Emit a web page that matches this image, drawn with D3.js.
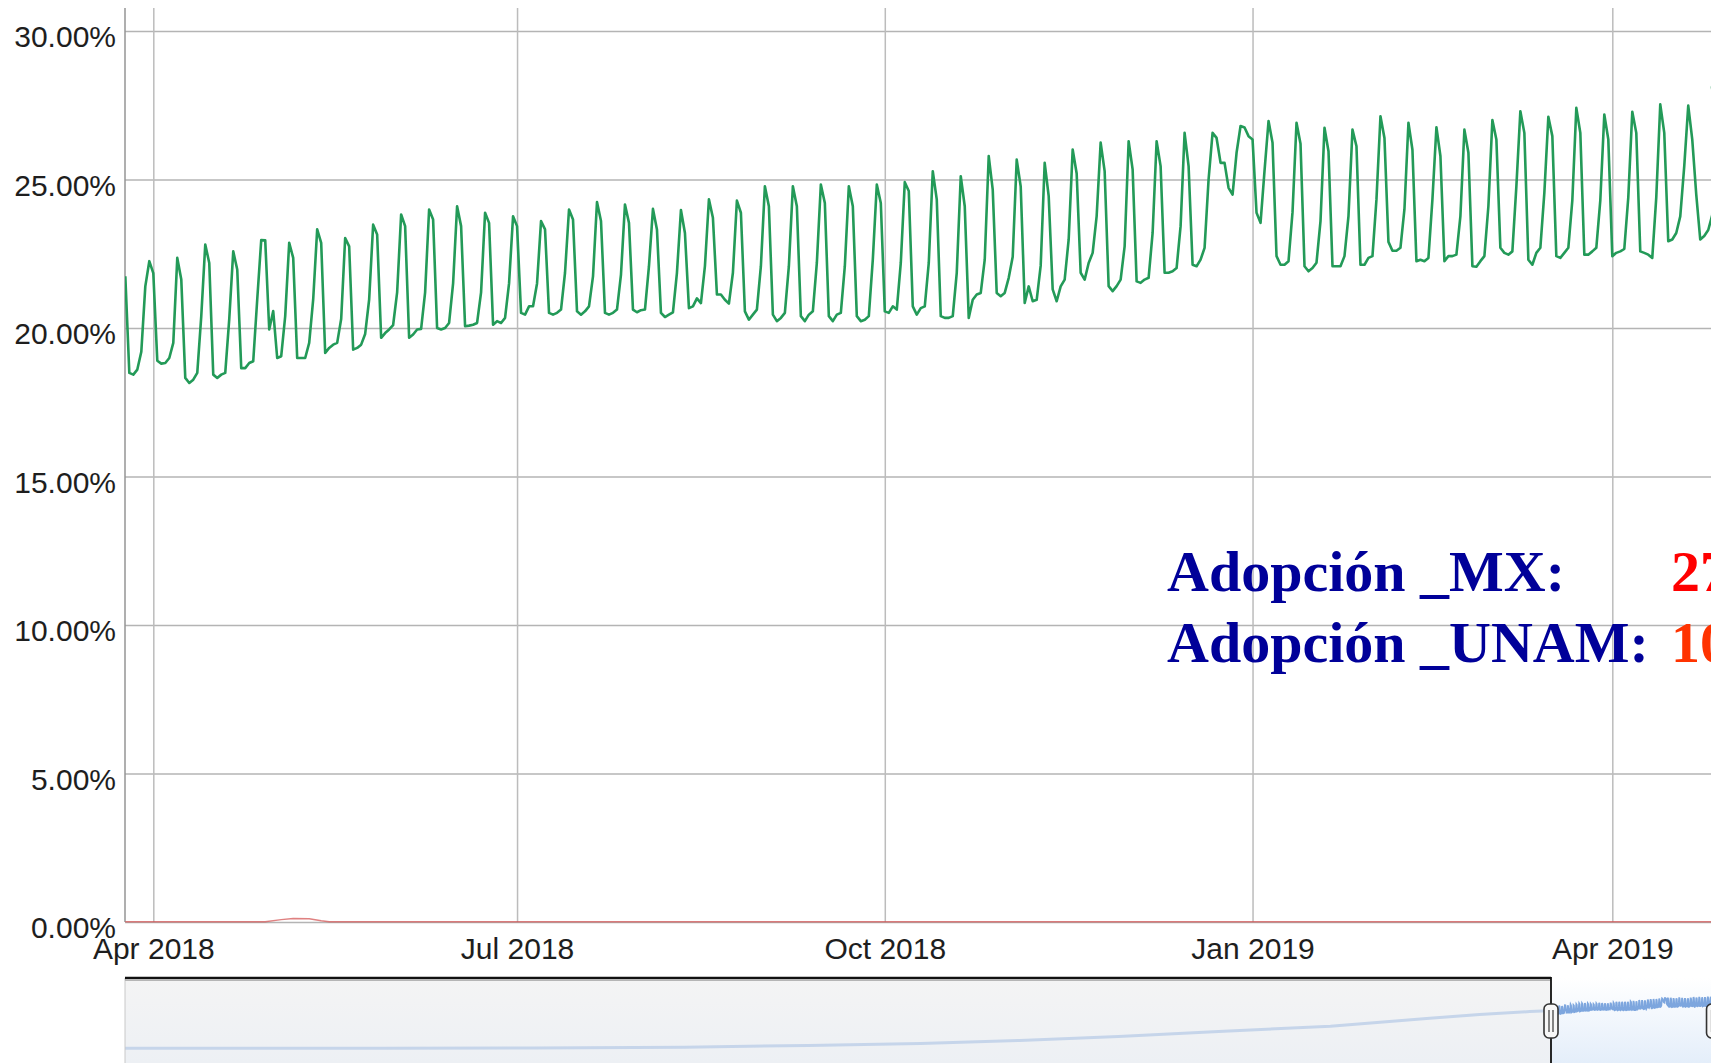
<!DOCTYPE html>
<html>
<head>
<meta charset="utf-8">
<script src="https://cdn.jsdelivr.net/npm/d3@7"></script>
<style>
  html, body { margin: 0; padding: 0; background: #fff; overflow: hidden; }
  svg { display: block; }
</style>
</head>
<body>
<div id="chart"></div>
<script>
// Daily IPv6 adoption MX (%), one row per week Sun..Sat, first day Sun 25 Mar 2018
const mxStart = "2018-03-25";
const mxAdoption = [
  21.74, 18.49, 18.43, 18.60, 19.20, 21.40, 22.25,
  21.85, 18.90, 18.80, 18.82, 18.99, 19.50, 22.36,
  21.63, 18.32, 18.15, 18.26, 18.49, 20.40, 22.81,
  22.19, 18.43, 18.32, 18.43, 18.49, 20.30, 22.58,
  21.97, 18.65, 18.65, 18.82, 18.88, 20.96, 22.96,
  22.95, 19.95, 20.57, 18.99, 19.05, 20.40, 22.87,
  22.36, 18.99, 18.99, 18.99, 19.50, 20.96, 23.32,
  22.87, 19.16, 19.33, 19.44, 19.50, 20.30, 23.03,
  22.75, 19.27, 19.33, 19.44, 19.80, 20.96, 23.48,
  23.15, 19.67, 19.83, 19.95, 20.10, 21.20, 23.82,
  23.43, 19.67, 19.78, 19.95, 19.97, 21.20, 23.99,
  23.65, 20.00, 19.95, 20.00, 20.17, 21.50, 24.10,
  23.43, 20.06, 20.08, 20.11, 20.17, 21.20, 23.88,
  23.54, 20.11, 20.23, 20.17, 20.34, 21.50, 23.76,
  23.43, 20.51, 20.45, 20.73, 20.73, 21.50, 23.60,
  23.32, 20.51, 20.45, 20.51, 20.62, 21.86, 23.99,
  23.65, 20.56, 20.45, 20.56, 20.73, 21.74, 24.24,
  23.60, 20.51, 20.45, 20.51, 20.62, 21.80, 24.16,
  23.54, 20.62, 20.53, 20.60, 20.62, 22.08, 24.01,
  23.32, 20.51, 20.37, 20.45, 20.53, 21.86, 23.97,
  23.20, 20.67, 20.73, 21.00, 20.84, 22.08, 24.33,
  23.71, 21.13, 21.13, 20.95, 20.82, 21.86, 24.29,
  23.88, 20.56, 20.28, 20.45, 20.62, 22.08, 24.77,
  24.10, 20.45, 20.23, 20.34, 20.51, 22.08, 24.77,
  24.10, 20.40, 20.23, 20.45, 20.56, 22.19, 24.83,
  24.21, 20.40, 20.23, 20.45, 20.51, 22.08, 24.77,
  24.10, 20.40, 20.23, 20.28, 20.40, 22.30, 24.83,
  24.21, 20.56, 20.51, 20.73, 20.62, 22.19, 24.91,
  24.61, 20.73, 20.45, 20.67, 20.73, 22.19, 25.28,
  24.33, 20.40, 20.34, 20.34, 20.40, 21.86, 25.11,
  24.10, 20.34, 20.95, 21.13, 21.18, 22.30, 25.79,
  24.66, 21.18, 21.07, 21.18, 21.69, 22.40, 25.67,
  24.77, 20.84, 21.40, 20.90, 20.95, 22.10, 25.56,
  24.44, 21.30, 20.90, 21.40, 21.63, 22.98, 26.01,
  25.20, 21.86, 21.63, 22.19, 22.53, 23.77, 26.24,
  25.28, 21.41, 21.24, 21.41, 21.63, 22.75, 26.29,
  25.34, 21.57, 21.52, 21.63, 21.69, 23.20, 26.29,
  25.45, 21.86, 21.86, 21.91, 22.02, 23.43, 26.57,
  25.45, 22.13, 22.08, 22.30, 22.70, 25.00, 26.57,
  26.40, 25.56, 25.56, 24.72, 24.49, 25.90, 26.80,
  26.75, 26.46, 26.35, 23.88, 23.54, 25.30, 26.97,
  26.24, 22.42, 22.13, 22.13, 22.25, 23.90, 26.91,
  26.20, 22.08, 21.91, 22.02, 22.20, 23.60, 26.74,
  25.95, 22.08, 22.08, 22.08, 22.42, 23.77, 26.68,
  26.12, 22.13, 22.13, 22.36, 22.42, 24.33, 27.13,
  26.40, 22.90, 22.60, 22.60, 22.70, 24.00, 26.91,
  26.00, 22.25, 22.30, 22.25, 22.36, 24.33, 26.76,
  25.79, 22.25, 22.42, 22.42, 22.47, 23.77, 26.68,
  25.90, 22.08, 22.06, 22.25, 22.42, 24.10, 27.00,
  26.35, 22.70, 22.53, 22.47, 22.58, 24.77, 27.30,
  26.57, 22.30, 22.13, 22.53, 22.70, 24.55, 27.11,
  26.46, 22.42, 22.36, 22.53, 22.70, 24.30, 27.41,
  26.57, 22.47, 22.47, 22.58, 22.70, 24.30, 27.19,
  26.35, 22.42, 22.53, 22.58, 22.66, 24.40, 27.28,
  26.57, 22.58, 22.53, 22.47, 22.36, 24.40, 27.53,
  26.57, 22.92, 22.98, 23.20, 23.76, 25.45, 27.49,
  26.35, 24.50, 22.98, 23.10, 23.30, 23.80, 28.10
];

// UNAM series, sits on the zero line with a small bump in May 2018
const unamDates = ["2018-03-25", "2018-04-29", "2018-05-03", "2018-05-06", "2018-05-10", "2018-05-13", "2018-05-15", "2019-04-27"];
const unamValues = [0.01, 0.01, 0.08, 0.12, 0.11, 0.04, 0.01, 0.01];

// overview (navigator) series before the zoomed range
const navDates = ["2008-09-01", "2009-06-01", "2010-06-01", "2011-06-01", "2012-06-01", "2013-04-01", "2014-01-01",
                  "2014-09-01", "2015-05-01", "2016-01-01", "2016-10-01", "2017-06-01", "2017-10-01", "2018-02-01", "2018-03-18"];
const navValues = [0.0, 0.0, 0.05, 0.2, 0.6, 1.5, 2.6, 4.2, 6.3, 9.0, 11.8, 16.0, 18.0, 19.6, 20.0];

const yTicks = [0, 5, 10, 15, 20, 25, 30];
const xTickDates = ["2018-04-01", "2018-07-01", "2018-10-01", "2019-01-01", "2019-04-01"];
const xTickLabels = ["Apr 2018", "Jul 2018", "Oct 2018", "Jan 2019", "Apr 2019"];

const overlayLabels = ["Adopción _MX:", "Adopción _UNAM:"];
const overlayNumbers = ["27%", "10%"];

const width = 1711, height = 1063;
const plotLeft = 125, plotTop = 8, plotBottom = 922;
const parse = d3.utcParse("%Y-%m-%d");

const start = parse(mxStart);
const mxData = mxAdoption.map((v, i) => ({ date: d3.utcDay.offset(start, i), value: v }));
const unamData = unamDates.map((d, i) => ({ date: parse(d), value: unamValues[i] }));
const navData = navDates.map((d, i) => ({ date: parse(d), value: navValues[i] })).concat(mxData);

const svg = d3.select("#chart")
    .append("svg")
    .attr("width", width)
    .attr("height", height)
    .style("font-family", "'Liberation Sans', Arial, sans-serif");

// scales
const x = d3.scaleUtc()
    .domain([parse("2018-04-01"), parse("2019-04-01")])
    .range([153.3, 1612.3]);
const y = d3.scaleLinear()
    .domain([0, 30])
    .range([plotBottom, 31]);

const defs = svg.append("defs");
defs.append("clipPath").attr("id", "plot-clip")
    .append("rect").attr("x", plotLeft).attr("y", 0).attr("width", width - plotLeft + 20).attr("height", plotBottom + 4);

// horizontal grid + y labels
const yAxis = svg.append("g")
    .attr("transform", `translate(${plotLeft},0)`)
    .call(d3.axisLeft(y).tickValues(yTicks).tickSize(-(width - plotLeft)).tickPadding(9)
        .tickFormat(d => d.toFixed(2) + "%"));
yAxis.select(".domain").remove();
yAxis.selectAll(".tick line").attr("stroke", "#b4b4b4").attr("stroke-width", 1.5);
yAxis.selectAll(".tick text")
    .attr("dy", 0).attr("y", 15.5)
    .style("font-size", "30px").style("fill", "#1e1e1e");

// vertical grid + x labels
const xAxis = svg.append("g")
    .attr("transform", `translate(0,${plotBottom})`)
    .call(d3.axisBottom(x).tickValues(xTickDates.map(parse)).tickSize(-(plotBottom - plotTop))
        .tickFormat((d, i) => xTickLabels[i]));
xAxis.select(".domain").remove();
xAxis.selectAll(".tick line").attr("stroke", "#bcbcbc").attr("stroke-width", 1.5);
xAxis.selectAll(".tick text")
    .attr("dy", 0).attr("y", 37)
    .style("font-size", "30px").style("fill", "#1e1e1e");

// left axis line
svg.append("line")
    .attr("x1", plotLeft).attr("x2", plotLeft)
    .attr("y1", plotTop).attr("y2", plotBottom)
    .attr("stroke", "#949494").attr("stroke-width", 1.5);

// series
const line = d3.line().x(d => x(d.date)).y(d => y(d.value));
const plot = svg.append("g").attr("clip-path", "url(#plot-clip)");

plot.append("path")
    .datum(unamData)
    .attr("fill", "none")
    .attr("stroke", "#d24b4b")
    .attr("stroke-opacity", 0.7)
    .attr("stroke-width", 1.5)
    .attr("d", line);

plot.append("path")
    .datum(mxData)
    .attr("fill", "none")
    .attr("stroke", "#239a58")
    .attr("stroke-width", 2.6)
    .attr("stroke-linejoin", "round")
    .attr("d", line);

const last = mxData[mxData.length - 1];
plot.append("circle")
    .attr("cx", x(last.date)).attr("cy", y(last.value))
    .attr("r", 5.5).attr("fill", "#239a58");

// overview navigator
const nx = d3.scaleUtc()
    .domain([parse("2008-09-01"), start])
    .range([plotLeft, 1551]);
const ny = d3.scaleLinear()
    .domain([0, 28])
    .range([1048.3, 995.8]);
const selLeft = nx(start);
const selRight = nx(last.date);
const navTop = 978;

const gOut = defs.append("linearGradient").attr("id", "nav-out").attr("x1", 0).attr("x2", 0).attr("y1", 0).attr("y2", 1);
gOut.append("stop").attr("offset", "0%").attr("stop-color", "#f4f4f4");
gOut.append("stop").attr("offset", "100%").attr("stop-color", "#edf0f4");
const gIn = defs.append("linearGradient").attr("id", "nav-in").attr("x1", 0).attr("x2", 0).attr("y1", 0).attr("y2", 1);
gIn.append("stop").attr("offset", "0%").attr("stop-color", "#ffffff");
gIn.append("stop").attr("offset", "100%").attr("stop-color", "#e4eefa");

defs.append("clipPath").attr("id", "nav-out-clip")
    .append("rect").attr("x", plotLeft).attr("y", navTop).attr("width", selLeft - plotLeft).attr("height", height - navTop);
defs.append("clipPath").attr("id", "nav-in-clip")
    .append("rect").attr("x", selLeft).attr("y", navTop).attr("width", width - selLeft + 20).attr("height", height - navTop);

svg.append("rect")
    .attr("x", plotLeft).attr("y", navTop).attr("width", selLeft - plotLeft).attr("height", height - navTop)
    .attr("fill", "url(#nav-out)");
svg.append("rect")
    .attr("x", selLeft).attr("y", navTop).attr("width", width - selLeft + 20).attr("height", height - navTop)
    .attr("fill", "url(#nav-in)");

const navLine = d3.line().x(d => nx(d.date)).y(d => ny(d.value));
svg.append("path")
    .datum(navData)
    .attr("clip-path", "url(#nav-out-clip)")
    .attr("fill", "none").attr("stroke", "#c6d5ea").attr("stroke-width", 3)
    .attr("d", navLine);
svg.append("path")
    .datum(navData)
    .attr("clip-path", "url(#nav-in-clip)")
    .attr("fill", "none").attr("stroke", "#7da6de").attr("stroke-width", 1.8)
    .attr("d", navLine);

// navigator borders
svg.append("line")
    .attr("x1", plotLeft).attr("x2", plotLeft).attr("y1", navTop).attr("y2", height)
    .attr("stroke", "#c8c8c8").attr("stroke-width", 1);
svg.append("line")
    .attr("x1", plotLeft).attr("x2", selLeft).attr("y1", navTop).attr("y2", navTop)
    .attr("stroke", "#111").attr("stroke-width", 2.5);
svg.append("line")
    .attr("x1", plotLeft).attr("x2", selLeft).attr("y1", navTop + 2.5).attr("y2", navTop + 2.5)
    .attr("stroke", "#b5b5b5").attr("stroke-width", 1);
svg.append("line")
    .attr("x1", selLeft).attr("x2", selLeft).attr("y1", navTop - 1).attr("y2", height)
    .attr("stroke", "#111").attr("stroke-width", 1.8);

// range handles
[selLeft, selRight].forEach(hx => {
    const h = svg.append("g").attr("transform", `translate(${hx},0)`);
    h.append("rect")
        .attr("x", -7).attr("y", 1004).attr("width", 14).attr("height", 34).attr("rx", 5)
        .attr("fill", "#f7f7f7").attr("stroke", "#333").attr("stroke-width", 1.6);
    [-2, 2].forEach(dx => {
        h.append("line")
            .attr("x1", dx).attr("x2", dx).attr("y1", 1010).attr("y2", 1032)
            .attr("stroke", "#444").attr("stroke-width", 1.3);
    });
});

// overlay annotation
const note = svg.append("g")
    .style("font-family", "'Liberation Serif', 'Times New Roman', serif")
    .style("font-weight", "bold")
    .style("font-size", "58px");
overlayLabels.forEach((t, i) => {
    note.append("text")
        .attr("x", 1167).attr("y", 590.7 + i * 71)
        .style("fill", "#000099")
        .text(t);
    note.append("text")
        .attr("x", 1671).attr("y", 590.7 + i * 71)
        .style("fill", i === 0 ? "#ff0000" : "#ff3300")
        .text(overlayNumbers[i]);
});
</script>
</body>
</html>
